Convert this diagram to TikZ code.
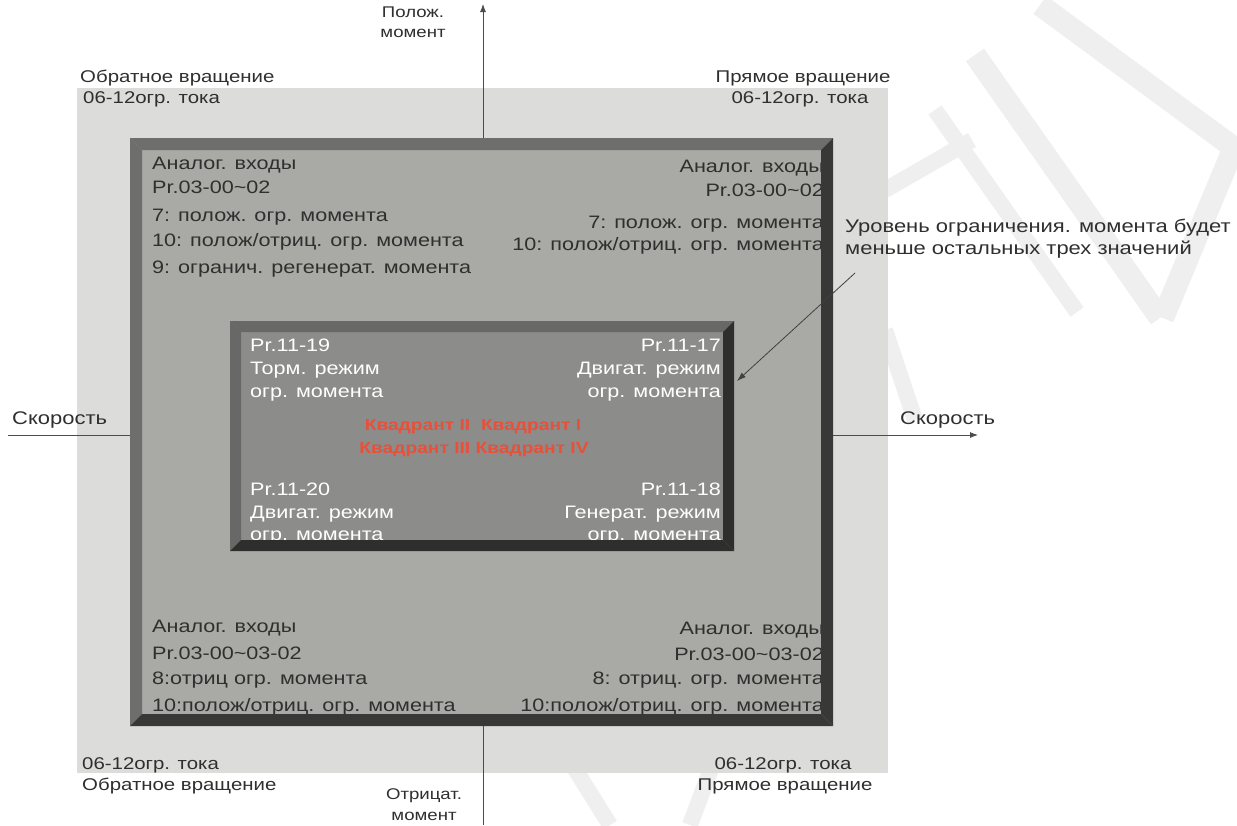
\documentclass[tikz,border=0pt]{standalone}
\usepackage{fontspec}
\setmainfont{Liberation Sans}
\newfontfamily\widesans[FakeStretch=1.2]{Liberation Sans}
\usetikzlibrary{arrows.meta}

\definecolor{outerbg}{HTML}{DCDCDA}
\definecolor{midfill}{HTML}{A9AAA5}
\definecolor{midlight}{HTML}{6E6E6C}
\definecolor{middark}{HTML}{383836}
\definecolor{innerfill}{HTML}{8C8C8A}
\definecolor{innerlight}{HTML}{686866}
\definecolor{innerdark}{HTML}{2E2E2C}
\definecolor{ink}{HTML}{2F2F2F}
\definecolor{quad}{HTML}{E8503A}
\definecolor{wmark}{HTML}{EFEFEF}

\begin{document}
\begin{tikzpicture}[x=1pt,y=-1pt,
  boxtxt/.style={font=\widesans\fontsize{18}{22}\selectfont, text=ink, inner sep=0pt},
  outtxt/.style={font=\widesans\fontsize{17}{21}\selectfont, text=ink, inner sep=0pt},
  bigtxt/.style={font=\widesans\fontsize{18.3}{22}\selectfont, text=ink, inner sep=0pt},
  axtxt/.style={font=\widesans\fontsize{15.5}{19}\selectfont, text=ink, inner sep=0pt},
  wtxt/.style={boxtxt, text=white},
  quadtxt/.style={font=\widesans\bfseries\fontsize{16}{19}\selectfont, text=quad, inner sep=0pt},
  axisline/.style={draw=black!70, line width=0.9pt, -{Latex[length=8pt,width=6pt]}},
  wband/.style={draw=wmark, line width=22pt, line cap=butt},
]
\useasboundingbox (0,0) rectangle (1237,825);
\fill[white] (0,0) rectangle (1237,825);

% faint background watermark strokes
\draw[wband] (975,55) -- (1160,318);
\draw[wband] (1040,5) -- (1237,150);
\draw[wband] (1237,140) -- (1163,318);
\draw[wband, line width=16pt] (935,110) -- (1077,312);
\draw[wband, line width=16pt] (885,190) -- (972,140);
\draw[wband, line width=16pt] (885,330) -- (915,420);
\draw[wband, line width=16pt] (560,745) -- (610,825);
\draw[wband, line width=16pt] (720,745) -- (690,825);

% outer current-limit area
\fill[outerbg] (77,88) rectangle (888,773);

% axes
\coordinate (vbot) at (483,825);
\coordinate (vtop) at (483,4);
\coordinate (hleft) at (8,435);
\coordinate (hright) at (978,435);
\draw[axisline] (vbot) -- (vtop);
\draw[axisline] (hleft) -- (hright);

% analog input area
\fill[midfill] (130,138) rectangle (833,726);

\node[boxtxt, anchor=west] (tl1) at (152,165) {Аналог. входы};
\node[boxtxt, anchor=west] (tl2) at (152,187) {Pr.03-00\textasciitilde 02};
\node[boxtxt, anchor=west] (tl3) at (152,217) {7: полож. огр. момента};
\node[boxtxt, anchor=west] (tl4) at (152,242) {10: полож/отриц. огр. момента};
\node[boxtxt, anchor=west] (tl5) at (152,269) {9: огранич. регенерат. момента};

\node[boxtxt, anchor=east] (tr1) at (824,168) {Аналог. входы};
\node[boxtxt, anchor=east] (tr2) at (824,190) {Pr.03-00\textasciitilde 02};
\node[boxtxt, anchor=east] (tr3) at (824,224) {7: полож. огр. момента};
\node[boxtxt, anchor=east] (tr4) at (824,246) {10: полож/отриц. огр. момента};

\node[boxtxt, anchor=west] (bl1) at (152,628) {Аналог. входы};
\node[boxtxt, anchor=west] (bl2) at (152,653) {Pr.03-00\textasciitilde 03-02};
\node[boxtxt, anchor=west] (bl3) at (152,680) {8:отриц огр. момента};
\node[boxtxt, anchor=west] (bl4) at (152,707) {10:полож/отриц. огр. момента};

\node[boxtxt, anchor=east] (br1) at (824,630) {Аналог. входы};
\node[boxtxt, anchor=east] (br2) at (824,654) {Pr.03-00\textasciitilde 03-02};
\node[boxtxt, anchor=east] (br3) at (824,680) {8: отриц. огр. момента};
\node[boxtxt, anchor=east] (br4) at (824,707) {10:полож/отриц. огр. момента};

% bevelled frame of the analog input area
\fill[midlight] (130,138) -- (833,138) -- (821,150) -- (142,150) -- cycle;
\fill[midlight] (130,138) -- (142,150) -- (142,714) -- (130,726) -- cycle;
\fill[middark] (833,138) -- (833,726) -- (821,714) -- (821,150) -- cycle;
\fill[middark] (130,726) -- (833,726) -- (821,714) -- (142,714) -- cycle;

% torque limit parameter area
\fill[innerfill] (230,321) rectangle (734,551);

\node[wtxt, anchor=west] (itl1) at (250,345) {Pr.11-19};
\node[wtxt, anchor=west] (itl2) at (250,370) {Торм. режим};
\node[wtxt, anchor=west] (itl3) at (250,395) {огр. момента};

\node[wtxt, anchor=east] (itr1) at (721,345) {Pr.11-17};
\node[wtxt, anchor=east] (itr2) at (721,370) {Двигат. режим};
\node[wtxt, anchor=east] (itr3) at (721,395) {огр. момента};

\node[wtxt, anchor=west] (ibl1) at (250,489) {Pr.11-20};
\node[wtxt, anchor=west] (ibl2) at (250,514) {Двигат. режим};
\node[wtxt, anchor=west] (ibl3) at (250,538) {огр. момента};

\node[wtxt, anchor=east] (ibr1) at (721,489) {Pr.11-18};
\node[wtxt, anchor=east] (ibr2) at (721,514) {Генерат. режим};
\node[wtxt, anchor=east] (ibr3) at (721,538) {огр. момента};

\node[quadtxt] (q1) at (473,427) {Квадрант II\ \ Квадрант I};
\node[quadtxt] (q2) at (474,450) {Квадрант III\ Квадрант IV};

\fill[innerlight] (230,321) -- (734,321) -- (723,332) -- (241,332) -- cycle;
\fill[innerlight] (230,321) -- (241,332) -- (241,540) -- (230,551) -- cycle;
\fill[innerdark] (734,321) -- (734,551) -- (723,540) -- (723,332) -- cycle;
\fill[innerdark] (230,551) -- (734,551) -- (723,540) -- (241,540) -- cycle;

% annotation
\node[bigtxt, anchor=west] (note1) at (845,228) {Уровень ограничения. момента будет};
\node[bigtxt, anchor=west] (note2) at (845,250) {меньше остальных трех значений};
\coordinate (notefrom) at (855,273);
\coordinate (noteto) at (737,381);
\draw[black!75, line width=0.8pt, -{Latex[length=9pt,width=6pt]}] (notefrom) -- (noteto);

% axis labels
\node[axtxt] (pos1) at (413,12) {Полож.};
\node[axtxt] (pos2) at (413,33) {момент};
\node[axtxt] (neg1) at (424,796) {Отрицат.};
\node[axtxt] (neg2) at (424,816) {момент};
\node[bigtxt, anchor=west] (spdL) at (12,420) {Скорость};
\node[bigtxt, anchor=west] (spdR) at (900,420) {Скорость};

% current limit labels
\node[outtxt, anchor=west] (rv1) at (80,78) {Обратное вращение};
\node[outtxt, anchor=west] (rv2) at (83,99) {06-12огр. тока};
\node[outtxt] (fw1) at (803,78) {Прямое вращение};
\node[outtxt] (fw2) at (800,99) {06-12огр. тока};
\node[outtxt, anchor=west] (rv3) at (82,765) {06-12огр. тока};
\node[outtxt, anchor=west] (rv4) at (82,786) {Обратное вращение};
\node[outtxt] (fw3) at (783,765) {06-12огр. тока};
\node[outtxt] (fw4) at (785,786) {Прямое вращение};
\end{tikzpicture}
\end{document}
